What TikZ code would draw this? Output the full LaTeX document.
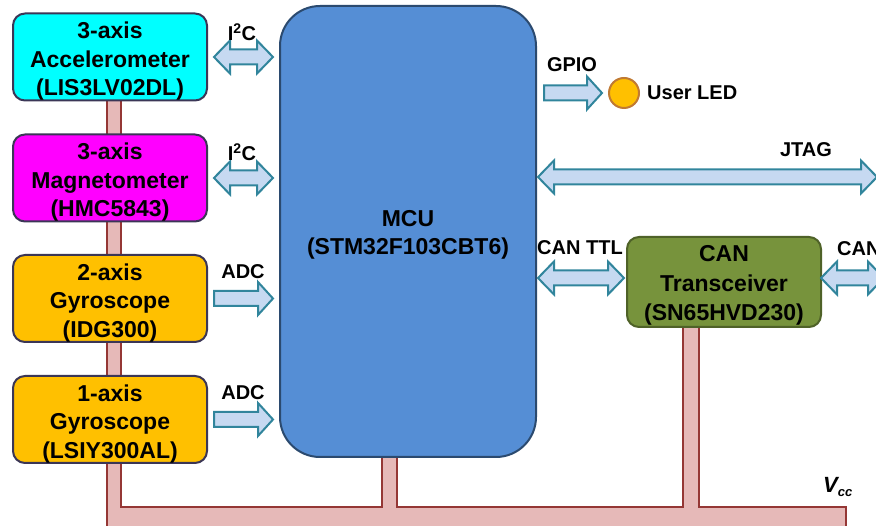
\documentclass[tikz,border=0pt]{standalone}
\usepackage{fontspec}
\setmainfont{Liberation Sans}
\usetikzlibrary{calc}
\pgfdeclarelayer{bg}
\pgfsetlayers{bg,main}
\definecolor{boxedge}{HTML}{3B3656}
\definecolor{accfill}{HTML}{00FFFF}
\definecolor{magfill}{HTML}{FF00FF}
\definecolor{gyrofill}{HTML}{FFC000}
\definecolor{mcufill}{HTML}{558ED5}
\definecolor{mcuedge}{HTML}{2B4A6F}
\definecolor{canfill}{HTML}{77933C}
\definecolor{canedge}{HTML}{4F6228}
\definecolor{arrfill}{HTML}{C6D9F1}
\definecolor{arredge}{HTML}{31859C}
\definecolor{busfill}{HTML}{E6B9B8}
\definecolor{busedge}{HTML}{953735}
\definecolor{ledfill}{HTML}{FFC000}
\definecolor{lededge}{HTML}{C07A33}
\newcommand{\tstrut}[1]{\rule{0pt}{#1}}
\newcommand{\dblarr}[2]{\path[blockarr] let \p1=#1, \p2=#2 in
  (\x1,\y1) -- (\x1+16pt,\y1+16.5pt) -- (\x1+16pt,\y1+7.5pt) -- (\x2-16pt,\y1+7.5pt)
  -- (\x2-16pt,\y1+16.5pt) -- (\x2,\y1) -- (\x2-16pt,\y1-16.5pt) -- (\x2-16pt,\y1-7.5pt)
  -- (\x1+16pt,\y1-7.5pt) -- (\x1+16pt,\y1-16.5pt) -- cycle;}
\newcommand{\sglarr}[2]{\path[blockarr] let \p1=#1, \p2=#2 in
  (\x1,\y1+7.5pt) -- (\x2-15pt,\y1+7.5pt) -- (\x2-15pt,\y1+16.5pt) -- (\x2,\y1)
  -- (\x2-15pt,\y1-16.5pt) -- (\x2-15pt,\y1-7.5pt) -- (\x1,\y1-7.5pt) -- cycle;}
\begin{document}
\begin{tikzpicture}[x=1pt,y=-1pt,
  sbox/.style={draw=boxedge, line width=2pt, rounded corners=12pt, minimum width=194pt,
    minimum height=87pt, inner sep=0pt, align=center,
    font=\fontsize{23}{28.5}\selectfont\bfseries},
  lbl/.style={font=\fontsize{20}{24}\selectfont\bfseries, inner sep=0pt},
  blockarr/.style={draw=arredge, fill=arrfill, line width=2pt},
  bus/.style={draw=busedge, fill=busfill, line width=2pt}]
\useasboundingbox (0,0) rectangle (876,526);
\clip (0,0) rectangle (876,526);

% blocks
\node[sbox, fill=accfill] (acc) at (110,57) {\tstrut{25pt}3-axis\\Accelerometer\\(LIS3LV02DL)};
\node[sbox, fill=magfill] (mag) at (110,178) {\tstrut{25pt}3-axis\\Magnetometer\\(HMC5843)};
\node[sbox, fill=gyrofill] (gyro2) at (110,298.5) {\tstrut{25pt}2-axis\\Gyroscope\\(IDG300)};
\node[sbox, fill=gyrofill] (gyro1) at (110,419.5) {\tstrut{25pt}1-axis\\Gyroscope\\(LSIY300AL)};
\node[draw=mcuedge, fill=mcufill, line width=2pt, rounded corners=40pt,
  minimum width=256pt, minimum height=451pt, inner sep=0pt, align=center,
  font=\fontsize{23}{28}\selectfont\bfseries] (mcu) at (408,231.5) {\tstrut{23pt}MCU\\(STM32F103CBT6)};
\node[sbox, fill=canfill, draw=canedge, minimum height=90pt,
  font=\fontsize{23}{29.5}\selectfont\bfseries] (can) at (724,282) {\tstrut{23pt}CAN\\Transceiver\\(SN65HVD230)};
\node[circle, draw=lededge, fill=ledfill, line width=2pt, minimum size=30pt, inner sep=0pt]
  (led) at (624,93) {};

% power bus
\begin{pgfonlayer}{bg}
\path[bus] (107,95) -- (107,540) -- (846,540) -- (846,507) -- (699,507) -- (699,320)
  -- (683,320) -- (683,507) -- (397,507) -- (397,450) -- (382,450) -- (382,507)
  -- (121,507) -- (121,95) -- cycle;
\end{pgfonlayer}

% free ends
\coordinate (jtagend) at (877,177);
\coordinate (canend) at (884,278);

% arrows
\dblarr{($(acc.east)+(6,0)$)}{($(mcu.west |- acc.east)+(-6,0)$)}
\dblarr{($(mag.east)+(6,0)$)}{($(mcu.west |- mag.east)+(-6,0)$)}
\sglarr{($(gyro2.east)+(6,0)$)}{($(mcu.west |- gyro2.east)+(-6,0)$)}
\sglarr{($(gyro1.east)+(6,0)$)}{($(mcu.west |- gyro1.east)+(-6,0)$)}
\sglarr{($(mcu.east |- led.west)+(7,0)$)}{($(led.west)+(-6,0)$)}
\dblarr{($(mcu.east |- jtagend)+(1,0)$)}{(jtagend)}
\dblarr{($(mcu.east |- canend)+(1,0)$)}{($(can.west |- canend)+(-2,0)$)}
\dblarr{($(can.east |- canend)+(-1,0)$)}{(canend)}

% labels
\node[lbl] (i2c1) at (242,32) {I\textsuperscript{2}C};
\node[lbl] (i2c2) at (242,152) {I\textsuperscript{2}C};
\node[lbl] (adc1) at (243,272) {ADC};
\node[lbl] (adc2) at (243,393) {ADC};
\node[lbl] (gpio) at (572,65) {GPIO};
\node[lbl, anchor=west] (ledlbl) at (647,93) {User LED};
\node[lbl] (jtag) at (806,150) {JTAG};
\node[lbl] (canttl) at (580,248) {CAN TTL};
\node[lbl, anchor=west] (canlbl) at (837,249) {CAN};
\node[inner sep=0pt, anchor=base west, font=\fontsize{22}{22}\selectfont\bfseries\itshape]
  (vcc) at (823,493) {V\raisebox{-4pt}{\fontsize{13}{13}\selectfont cc}};
\end{tikzpicture}
\end{document}
